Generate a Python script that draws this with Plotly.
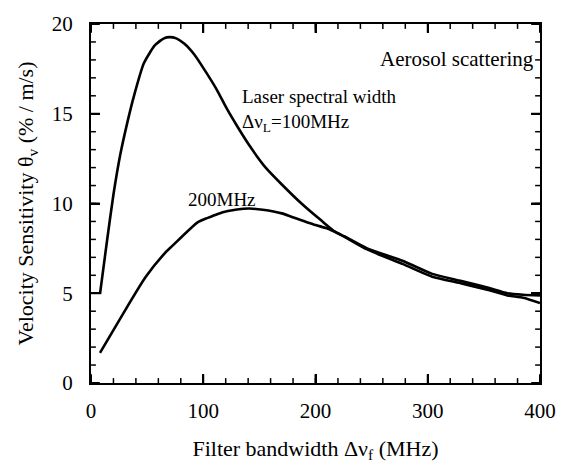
import plotly.graph_objects as go

# Filter bandwidth (MHz) and velocity sensitivity (% / m/s)
bw_100 = [8, 14, 20, 26, 32.5, 38.3, 47, 57, 65, 70, 76, 83, 92, 101, 112, 121, 130, 141,
          156, 170, 188, 205, 218, 226, 246, 278, 304, 330, 354, 371, 385, 400]
sens_100 = [4.95, 7.8, 10.5, 12.7, 14.55, 16.0, 17.8, 18.82, 19.2, 19.27, 19.2, 18.91, 18.3,
            17.46, 16.35, 15.28, 14.33, 13.24, 11.97, 11.06, 9.97, 9.06, 8.4, 8.16, 7.5, 6.8,
            6.08, 5.68, 5.3, 5.0, 4.92, 4.88]

bw_200 = [8, 28, 48.5, 66, 72, 95, 104, 113, 122, 130, 141, 153, 170, 179, 200, 210, 220, 226,
          246, 278, 304, 330, 354, 371, 385, 400]
sens_200 = [1.68, 3.80, 5.89, 7.25, 7.61, 8.95, 9.2, 9.42, 9.58, 9.67, 9.72, 9.65, 9.45, 9.25,
            8.8, 8.62, 8.34, 8.14, 7.44, 6.62, 5.92, 5.55, 5.18, 4.88, 4.75, 4.45]

x_ticks = [0, 100, 200, 300, 400]
y_ticks = [0, 5, 10, 15, 20]
x_minor = list(range(0, 401, 20))
y_minor = list(range(0, 21, 1))

FONT = "Liberation Serif"
W, H = 568, 470
M = dict(l=91, r=18, t=16, b=87)
plot_w = W - M["l"] - M["r"]
plot_h = H - M["t"] - M["b"]

fig = go.Figure()
fig.add_trace(go.Scatter(x=bw_100, y=sens_100, mode="lines", name="100MHz",
                         line=dict(color="black", width=2.6, shape="spline", smoothing=0.6)))
fig.add_trace(go.Scatter(x=bw_200, y=sens_200, mode="lines", name="200MHz",
                         line=dict(color="black", width=2.6, shape="spline", smoothing=0.6)))

fig.update_xaxes(ticks="inside", ticklen=9, tickwidth=2, tickcolor="black",
                 showline=True, mirror="allticks", linecolor="black", linewidth=2,
                 range=[x_ticks[0], x_ticks[-1]], tick0=x_ticks[0],
                 dtick=x_ticks[1] - x_ticks[0], ticklabelstandoff=8,
                 tickfont=dict(family=FONT, size=21, color="black"),
                 title=dict(text="Filter bandwidth Δν<sub>f</sub> (MHz)", standoff=18,
                            font=dict(family=FONT, size=22, color="black")))
fig.update_yaxes(ticks="inside", ticklen=9, tickwidth=2, tickcolor="black",
                 showline=True, mirror="allticks", linecolor="black", linewidth=2,
                 range=[y_ticks[0], y_ticks[-1]], tick0=y_ticks[0],
                 dtick=y_ticks[1] - y_ticks[0], ticklabelstandoff=12,
                 tickfont=dict(family=FONT, size=21, color="black"),
                 title=dict(text="Velocity Sensitivity θ<sub>v</sub> (% / m/s)", standoff=12,
                            font=dict(family=FONT, size=22, color="black")))

# inward tick marks on all four sides (major long, minor short), placed from the tick lists
def add_ticks(vals, length, width):
    fx = length / plot_h
    fy = length / plot_w
    for v in vals:
        for (a, b) in ((0, fx), (1, 1 - fx)):
            fig.add_shape(type="line", xref="x", yref="paper", x0=v, x1=v, y0=a, y1=b,
                          line=dict(color="black", width=width))
    return fy

def add_yticks(vals, length, width):
    fy = length / plot_w
    for v in vals:
        for (a, b) in ((0, fy), (1, 1 - fy)):
            fig.add_shape(type="line", xref="paper", yref="y", y0=v, y1=v, x0=a, x1=b,
                          line=dict(color="black", width=width))

add_ticks(x_minor, 5, 1.5)
add_ticks(x_ticks, 9, 2)
add_yticks(y_minor, 5, 1.5)
add_yticks(y_ticks, 9, 2)

ann_font = dict(family=FONT, size=19, color="black")
fig.add_annotation(x=396, y=18.04, text="Aerosol scattering",
                   showarrow=False, xanchor="right", yanchor="middle",
                   font=dict(family=FONT, size=21, color="black"))
fig.add_annotation(x=132.5, y=15.97, text="Laser spectral width",
                   showarrow=False, xanchor="left", yanchor="middle", font=ann_font)
fig.add_annotation(x=132.5, y=14.5, text="Δν<sub>L</sub>=100MHz",
                   showarrow=False, xanchor="left", yanchor="middle", font=ann_font)
fig.add_annotation(x=84.5, y=10.25, text="200MHz",
                   showarrow=False, xanchor="left", yanchor="middle", font=ann_font)

fig.update_layout(width=W, height=H, margin=M,
                  plot_bgcolor="white", paper_bgcolor="white", showlegend=False)
fig.write_html("out.html")
